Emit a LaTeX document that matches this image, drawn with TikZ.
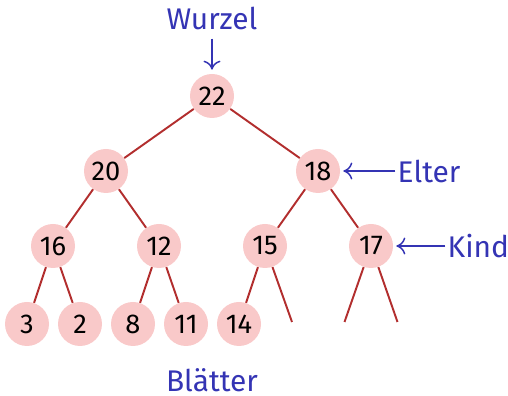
\documentclass[tikz,border=0pt]{standalone}
\usepackage{fontspec}
\setmainfont{Fira Sans}
\usetikzlibrary{positioning,arrows.meta}

\definecolor{nodepink}{RGB}{249,201,201}
\definecolor{edgered}{RGB}{178,46,46}
\definecolor{tagblue}{RGB}{52,52,180}

\tikzset{
  heapnode/.style={circle, fill=nodepink, minimum size=0.88cm, inner sep=0pt,
    font=\fontsize{15.5}{15.5}\selectfont},
  treeline/.style={edgered, line width=1.1pt},
  tag/.style={tagblue, inner sep=0pt, font=\fontsize{17}{17}\selectfont},
  pointer/.style={tagblue, line width=0.85pt, -{To[length=1.8mm,width=3.4mm]}}
}

\begin{document}
\begin{tikzpicture}
      \useasboundingbox (0,0) rectangle (10.16,-7.92);

      % Draw the heap nodes
      \node[heapnode] (n22) at (4.24,-1.92) {22};
      \node[heapnode] (n20) at (2.12,-3.42) {20};
      \node[heapnode] (n18) at (6.36,-3.42) {18};
      \node[heapnode] (n16) at (1.06,-4.92) {16};
      \node[heapnode] (n12) at (3.18,-4.92) {12};
      \node[heapnode] (n15) at (5.30,-4.92) {15};
      \node[heapnode] (n17) at (7.42,-4.92) {17};
      \node[heapnode] (n3)  at (0.54,-6.48) {3};
      \node[heapnode] (n2)  at (1.60,-6.48) {2};
      \node[heapnode] (n8)  at (2.66,-6.48) {8};
      \node[heapnode] (n11) at (3.72,-6.48) {11};
      \node[heapnode] (n14) at (4.78,-6.48) {14};

      % Open ends below 15 and 17
      \coordinate (e15) at (5.84,-6.44);
      \coordinate (e17a) at (6.89,-6.44);
      \coordinate (e17b) at (7.95,-6.44);

      % Draw the tree lines
      \draw[treeline] (n22) -- (n20);
      \draw[treeline] (n22) -- (n18);
      \draw[treeline] (n20) -- (n16);
      \draw[treeline] (n20) -- (n12);
      \draw[treeline] (n18) -- (n15);
      \draw[treeline] (n18) -- (n17);
      \draw[treeline] (n16) -- (n3);
      \draw[treeline] (n16) -- (n2);
      \draw[treeline] (n12) -- (n8);
      \draw[treeline] (n12) -- (n11);
      \draw[treeline] (n15) -- (n14);
      \draw[treeline] (n15) -- (e15);
      \draw[treeline] (n17) -- (e17a);
      \draw[treeline] (n17) -- (e17b);

      % Add labels
      \node[tag, above=0.86cm of n22] (wurzel) {Wurzel};
      \node[tag, right=1.14cm of n18] (elter) {Elter};
      \node[tag, right=1.08cm of n17] (kind) {Kind};
      \node[tag, anchor=base] (blaetter) at (4.24,-7.84) {Blätter};

      % Draw the pointers
      \draw[pointer, shorten <=0.16cm, shorten >=0.08cm] (wurzel.south) -- (n22);
      \draw[pointer, shorten <=0.04cm, shorten >=0.06cm] (elter) -- (n18);
      \draw[pointer, shorten <=0.04cm, shorten >=0.06cm] (kind) -- (n17);
  \end{tikzpicture}
\end{document}
